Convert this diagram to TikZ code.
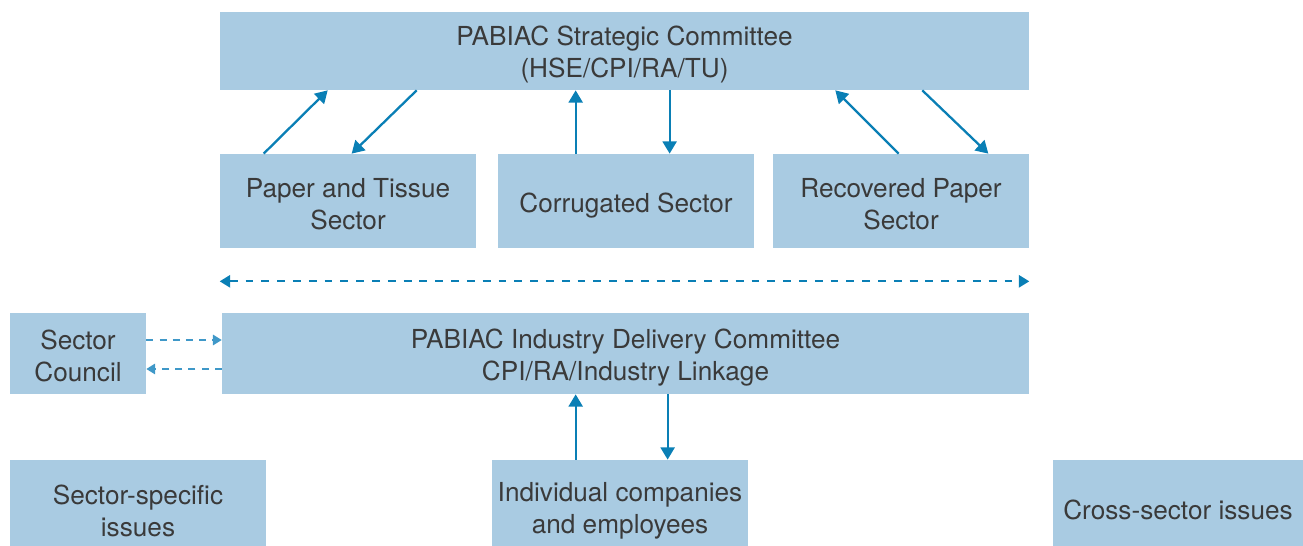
\documentclass[tikz,border=0pt]{standalone}
\usepackage{fontspec}
\setmainfont{TeX Gyre Heros}
\usetikzlibrary{shapes, arrows, arrows.meta}
\definecolor{boxblue}{HTML}{A9CBE2}
\definecolor{arrowblue}{HTML}{0A7FB5}
\definecolor{dashblue}{HTML}{3F98C8}
\definecolor{textgray}{HTML}{3A3A3A}

\begin{document}
\begin{tikzpicture}[x=0.02cm, y=-0.02cm,
  box/.style={fill=boxblue, align=center, text=textgray, inner sep=0pt,
    font=\fontsize{14.9}{18.2}\selectfont,
    execute at begin node={\rule{0pt}{#1}}},
  box/.default=16.6pt,
  link/.style={-{Triangle[length=7pt, width=8pt]}, line width=1.3pt, arrowblue},
  dlink/.style={{Triangle[length=6pt, width=7pt]}-{Triangle[length=6pt, width=7pt]},
    line width=1.2pt, arrowblue, dash pattern=on 4.5pt off 4.5pt},
  slink/.style={-{Triangle[length=5pt, width=6pt]}, line width=0.8pt, dashblue,
    dash pattern=on 4pt off 3.5pt}]
\useasboundingbox (0,0) rectangle (1303,546);

\node[box=33pt, minimum width=16.18cm, minimum height=1.56cm] (S) at (624.5, 51) {PABIAC Strategic Committee\\(HSE/CPI/RA/TU)};
\node[box=32.4pt, minimum width=5.12cm, minimum height=1.88cm] (P) at (348, 201) {Paper and Tissue\\Sector};
\node[box, minimum width=5.12cm, minimum height=1.88cm] (C) at (626, 201) {Corrugated Sector};
\node[box=32.4pt, minimum width=5.12cm, minimum height=1.88cm] (R) at (901, 201) {Recovered Paper\\Sector};
\node[box=34pt, minimum width=16.14cm, minimum height=1.62cm] (D) at (625.5, 353.5) {PABIAC Industry Delivery Committee\\CPI/RA/Industry Linkage};
\node[box=32.4pt, minimum width=2.72cm, minimum height=1.62cm] (SC) at (78, 353.5) {Sector\\Council};
\node[box=38pt, minimum width=5.12cm, minimum height=1.72cm] (SS) at (138, 503) {Sector-specific\\issues};
\node[box=38pt, minimum width=5.12cm, minimum height=1.72cm] (I) at (620, 503) {Individual companies\\and employees};
\node[box=19pt, minimum width=5.0cm, minimum height=1.72cm] (X) at (1178, 503) {Cross-sector issues};

\draw[link] ([xshift=0.88cm]P.north west) -- ([xshift=2.16cm]S.south west);
\draw[link] ([xshift=3.94cm]S.south west) -- ([xshift=2.64cm]P.north west);
\draw[link] ([xshift=1.56cm]C.north west) -- ([xshift=1.56cm]C.north west |- S.south);
\draw[link] ([xshift=3.44cm]C.north west |- S.south) -- ([xshift=3.44cm]C.north west);
\draw[link] ([xshift=2.52cm]R.north west) -- ([xshift=-3.88cm]S.south east);
\draw[link] ([xshift=-2.14cm]S.south east) -- ([xshift=-0.82cm]R.north east);

\draw[dlink] ([yshift=-0.66cm]P.south west) -- ([yshift=-0.66cm]R.south east);

\draw[slink] ([yshift=0.27cm]SC.east) -- ([yshift=0.27cm]D.west);
\draw[slink] ([yshift=-0.31cm]D.west) -- ([yshift=-0.31cm]SC.east);

\draw[link] ([xshift=1.68cm]I.north west) -- ([xshift=1.68cm]I.north west |- D.south);
\draw[link] ([xshift=3.52cm]I.north west |- D.south) -- ([xshift=3.52cm]I.north west);

\end{tikzpicture}
\end{document}
